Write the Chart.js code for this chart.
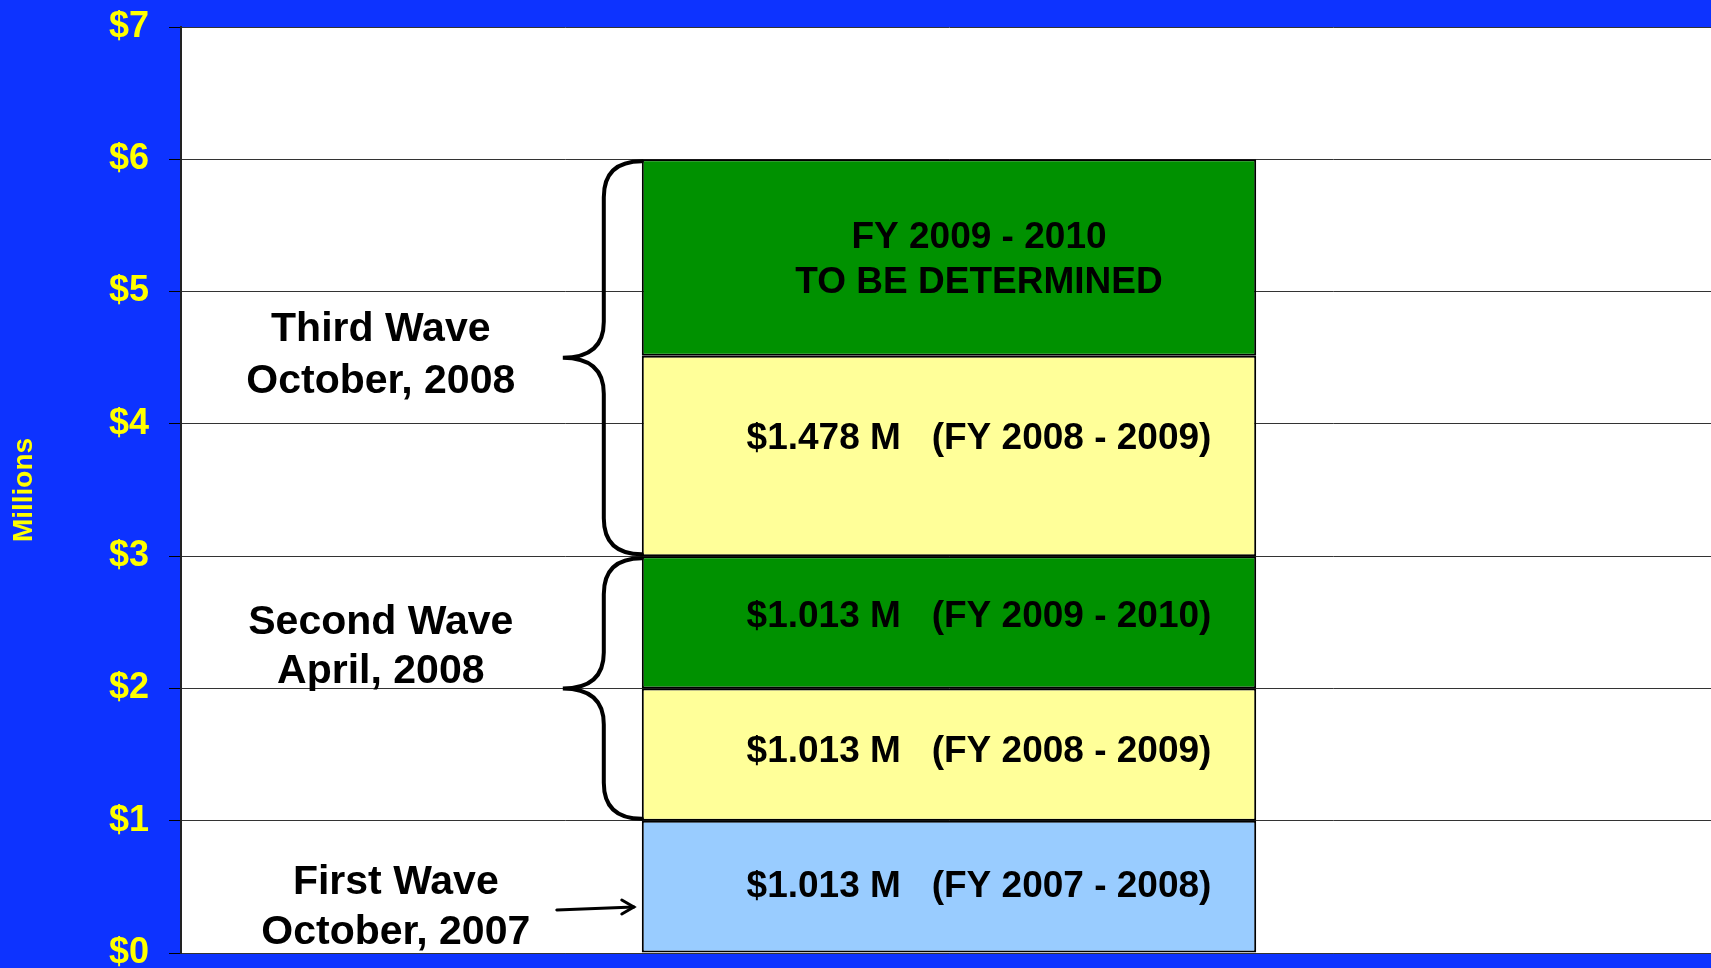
<!DOCTYPE html>
<html>
<head>
<meta charset="utf-8">
<script src="https://cdn.jsdelivr.net/npm/chart.js@4.4.0/dist/chart.umd.min.js"></script>
<style>
    html, body { margin: 0; padding: 0; overflow: hidden; background: #0D33FF; }
    canvas { display: block; }
</style>
</head>
<body>
<canvas id="waves" width="1717" height="968"></canvas>
<script>
// Funding per wave, stacked bottom to top (millions)
const categories = [''];
const firstWave = [1.0];
const secondWaveFY0809 = [1.0];
const secondWaveFY0910 = [1.0];
const thirdWaveFY0809 = [1.515];
const thirdWaveFY0910 = [1.485];

const yTicks = [0, 1, 2, 3, 4, 5, 6, 7];

const segmentLabels = [
    ['$1.013 M   (FY 2007 - 2008)'],
    ['$1.013 M   (FY 2008 - 2009)'],
    ['$1.013 M   (FY 2009 - 2010)'],
    ['$1.478 M   (FY 2008 - 2009)'],
    ['FY 2009 - 2010', 'TO BE DETERMINED']
];

const waveNames = ['First Wave', 'Second Wave', 'Third Wave'];
const waveDates = ['October, 2007', 'April, 2008', 'October, 2008'];

const FONT = '"Liberation Sans", Arial, sans-serif';

// white plot background
const plotBg = {
    id: 'plotBg',
    beforeDraw(chart) {
        const { ctx, chartArea: a } = chart;
        ctx.save();
        ctx.fillStyle = '#ffffff';
        ctx.fillRect(a.left, a.top, a.right - a.left, a.bottom - a.top);
        ctx.restore();
    }
};

// text in the bar segments, wave labels, braces and arrow
const annotations = {
    id: 'annotations',
    afterDatasetsDraw(chart) {
        const { ctx } = chart;
        const y = chart.scales.y;
        const bar = chart.getDatasetMeta(0).data[0];
        const barLeft = bar.x - bar.width / 2;
        const textX = bar.x + 30;

        ctx.save();
        ctx.fillStyle = '#000';
        ctx.textAlign = 'center';
        ctx.textBaseline = 'middle';
        ctx.font = 'bold 37px ' + FONT;

        const offsets = [0, -3, -5, -17, 3];
        chart.data.datasets.forEach((ds, i) => {
            const el = chart.getDatasetMeta(i).data[0];
            const mid = (el.y + el.base) / 2 + offsets[i];
            const lines = segmentLabels[i];
            const lh = 45;
            lines.forEach((t, k) => {
                ctx.fillText(t, textX, mid + (k - (lines.length - 1) / 2) * lh);
            });
        });

        // wave labels
        ctx.font = 'bold 41px ' + FONT;
        const labelPos = [
            { x: barLeft - 246, v1: 0.53, v2: 0.15 },
            { x: barLeft - 261, v1: 2.50, v2: 2.13 },
            { x: barLeft - 261, v1: 4.71, v2: 4.32 }
        ];
        labelPos.forEach((p, i) => {
            ctx.fillText(waveNames[i], p.x, y.getPixelForValue(p.v1));
            ctx.fillText(waveDates[i], p.x, y.getPixelForValue(p.v2));
        });

        // braces
        ctx.strokeStyle = '#000';
        ctx.lineWidth = 4;
        ctx.lineCap = 'round';
        const brace = (vTop, vBot) => {
            const yt = y.getPixelForValue(vTop) + 2;
            const yb = y.getPixelForValue(vBot) - 2;
            const ym = (yt + yb) / 2;
            const stem = barLeft - 38, tip = barLeft - 79, end = barLeft, r = 36;
            ctx.beginPath();
            ctx.moveTo(end, yt);
            ctx.quadraticCurveTo(stem, yt, stem, yt + r);
            ctx.lineTo(stem, ym - r);
            ctx.quadraticCurveTo(stem, ym, tip, ym);
            ctx.quadraticCurveTo(stem, ym, stem, ym + r);
            ctx.lineTo(stem, yb - r);
            ctx.quadraticCurveTo(stem, yb, end, yb);
            ctx.stroke();
        };
        brace(6, 3);
        brace(3, 1);

        // arrow to first wave
        const ay = y.getPixelForValue(0.34);
        const ax0 = barLeft - 85, ax1 = barLeft - 8;
        ctx.lineWidth = 3;
        ctx.beginPath();
        ctx.moveTo(ax0, ay + 2);
        ctx.lineTo(ax1, ay - 1);
        ctx.stroke();
        ctx.beginPath();
        ctx.moveTo(ax1 - 12, ay - 8);
        ctx.lineTo(ax1, ay - 1);
        ctx.lineTo(ax1 - 12, ay + 6);
        ctx.stroke();
        ctx.restore();
    }
};

const seg = (data, color) => ({
    data,
    backgroundColor: color,
    borderColor: '#000',
    borderWidth: 2,
    borderSkipped: false,
    barPercentage: 0.4,
    categoryPercentage: 1
});

new Chart(document.getElementById('waves'), {
    type: 'bar',
    data: {
        labels: categories,
        datasets: [
            seg(firstWave, '#99CCFF'),
            seg(secondWaveFY0809, '#FFFF99'),
            seg(secondWaveFY0910, '#009100'),
            seg(thirdWaveFY0809, '#FFFF99'),
            seg(thirdWaveFY0910, '#009100')
        ]
    },
    options: {
        responsive: false,
        animation: false,
        layout: { padding: { top: 27, bottom: 15, left: 0, right: 0 } },
        plugins: {
            legend: { display: false },
            tooltip: { enabled: false }
        },
        scales: {
            x: {
                stacked: true,
                display: false
            },
            y: {
                stacked: true,
                min: 0,
                max: 7,
                afterBuildTicks: s => { s.ticks = yTicks.map(v => ({ value: v })); },
                afterFit: s => {
                    s.width = 181;
                    s.paddingTop = 0;
                    s.paddingBottom = 0;
                },
                ticks: {
                    color: '#FFFF00',
                    font: { family: FONT, size: 36, weight: 'bold' },
                    padding: 20,
                    callback: v => '$' + v
                },
                grid: {
                    color: '#333',
                    lineWidth: 1,
                    tickLength: 12,
                    tickColor: '#000'
                },
                border: { color: '#222', width: 2 },
                title: {
                    display: true,
                    text: 'Millions',
                    color: '#FFFF00',
                    font: { family: FONT, size: 28, weight: 'bold' },
                    padding: { top: 7, bottom: 0 }
                }
            }
        }
    },
    plugins: [plotBg, annotations]
});
</script>
</body>
</html>
